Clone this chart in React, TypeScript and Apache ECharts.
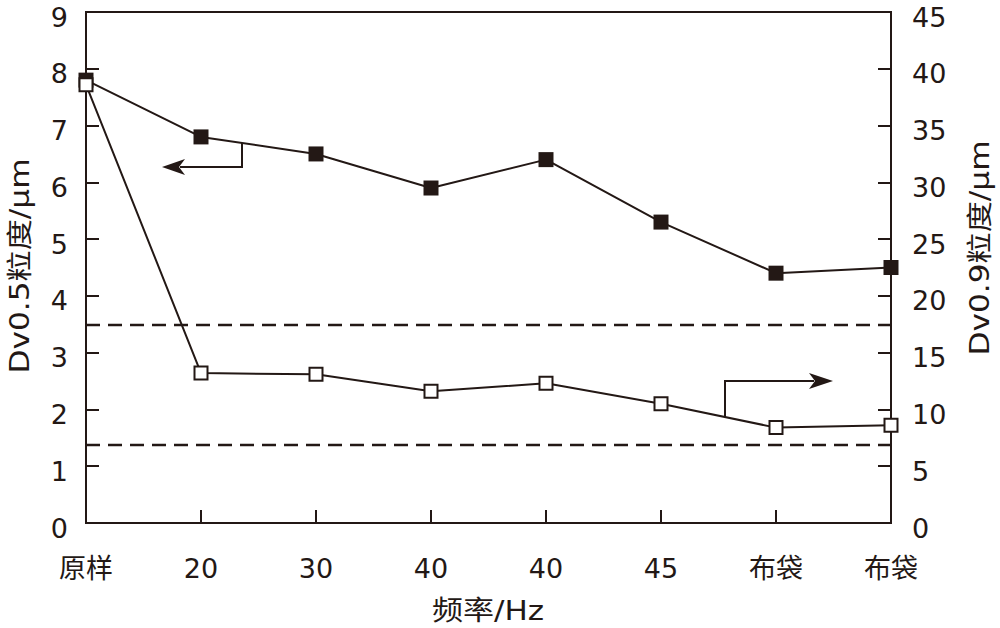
import React, { useEffect, useRef } from "react";
import * as echarts from "echarts";

const categories = ["原样", "20", "30", "40", "40", "45", "布袋", "布袋"];
const dv05Values = [7.8, 6.8, 6.5, 5.9, 6.4, 5.3, 4.4, 4.5];
const dv09Values = [38.6, 13.2, 13.1, 11.6, 12.3, 10.5, 8.4, 8.6];
const leftRefLines = [3.5, 1.37];
const leftAxisName = "Dv0.5粒度/μm";
const rightAxisName = "Dv0.9粒度/μm";
const xAxisName = "频率/Hz";

const INK = "#231815";
const FONT = "'DejaVu Sans', 'Noto Sans CJK SC', sans-serif";

export default function App() {
  const ref = useRef<HTMLDivElement>(null);
  useEffect(() => {
    if (!ref.current) return;
    const chart = echarts.init(ref.current, undefined, { renderer: "svg" });
    const axisCommon = {
      axisLine: { show: true, lineStyle: { color: INK, width: 2 } },
      axisTick: { show: true, inside: true, length: 13, lineStyle: { color: INK, width: 2 } },
      splitLine: { show: false },
    };
    chart.setOption({
      animation: false,
      backgroundColor: "#ffffff",
      grid: {
        left: 86,
        right: 109,
        top: 12,
        bottom: 105,
        containLabel: false,
        outerBoundsMode: "none",
        show: true,
        borderColor: INK,
        borderWidth: 2,
        backgroundColor: "transparent",
      },
      xAxis: {
        type: "category",
        data: categories,
        boundaryGap: false,
        ...axisCommon,
        axisTick: { ...axisCommon.axisTick, alignWithLabel: true },
        axisLabel: { color: INK, fontSize: 27, fontFamily: FONT, margin: 32, interval: 0 },
      },
      yAxis: [
        {
          type: "value",
          min: 0,
          max: 9,
          interval: 1,
          position: "left",
          ...axisCommon,
          axisLabel: {
            color: INK,
            fontSize: 27,
            fontFamily: FONT,
            margin: 18,
            lineHeight: 10,
            verticalAlign: "top",
          },
        },
        {
          type: "value",
          min: 0,
          max: 45,
          interval: 5,
          position: "right",
          ...axisCommon,
          axisLabel: {
            color: INK,
            fontSize: 27,
            fontFamily: FONT,
            margin: 21,
            lineHeight: 10,
            verticalAlign: "top",
          },
        },
      ],
      series: [
        {
          type: "line",
          yAxisIndex: 0,
          data: dv05Values,
          symbol: "rect",
          symbolSize: 15,
          lineStyle: { color: INK, width: 2 },
          itemStyle: { color: INK, borderColor: INK, borderWidth: 0 },
          markLine: {
            silent: true,
            symbol: "none",
            label: { show: false },
            lineStyle: { color: INK, width: 2.3, type: [14, 8] },
            data: leftRefLines.map((v) => ({ yAxis: v })),
          },
          z: 3,
        },
        {
          type: "line",
          yAxisIndex: 1,
          data: dv09Values,
          symbol: "rect",
          symbolSize: 13,
          lineStyle: { color: INK, width: 2 },
          itemStyle: { color: "#ffffff", borderColor: INK, borderWidth: 2 },
          z: 4,
        },
      ],
      graphic: [
        {
          type: "text",
          x: 20,
          y: 266,
          rotation: Math.PI / 2,
          scaleX: 1.2,
          style: {
            text: leftAxisName,
            fill: INK,
            font: `26px ${FONT}`,
            align: "center",
            verticalAlign: "middle",
          },
        },
        {
          type: "text",
          x: 980,
          y: 248,
          rotation: Math.PI / 2,
          scaleX: 1.2,
          style: {
            text: rightAxisName,
            fill: INK,
            font: `26px ${FONT}`,
            align: "center",
            verticalAlign: "middle",
          },
        },
        {
          type: "text",
          x: 488,
          y: 611,
          scaleX: 1.15,
          style: {
            text: xAxisName,
            fill: INK,
            font: `27px ${FONT}`,
            align: "center",
            verticalAlign: "middle",
          },
        },
        {
          type: "polyline",
          shape: { points: [[242, 143], [242, 167], [180, 167]] },
          style: { stroke: INK, lineWidth: 2, fill: null },
        },
        {
          type: "polygon",
          shape: { points: [[162, 167], [185, 159], [179, 167], [185, 175]] },
          style: { fill: INK },
        },
        {
          type: "polyline",
          shape: { points: [[725, 417], [725, 381], [814, 381]] },
          style: { stroke: INK, lineWidth: 2, fill: null },
        },
        {
          type: "polygon",
          shape: { points: [[833, 381], [809, 373], [815, 381], [809, 389]] },
          style: { fill: INK },
        },
      ],
    });
    return () => chart.dispose();
  }, []);
  return (
    <div
      ref={ref}
      style={{ position: "absolute", left: 0, top: 0, width: 1000, height: 628 }}
    />
  );
}
